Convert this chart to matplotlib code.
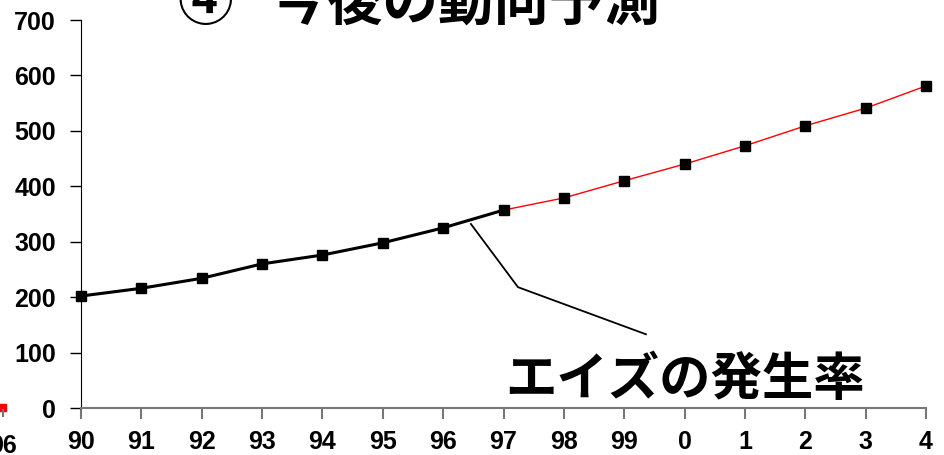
import matplotlib.pyplot as plt
from matplotlib.patches import Rectangle

plt.rcParams['font.family'] = ['Liberation Sans', 'Noto Sans CJK JP', 'DejaVu Sans']

years = ['90', '91', '92', '93', '94', '95', '96', '97', '98', '99', '0', '1', '2', '3', '4']
cases = [202, 216, 234, 260, 276, 298, 325, 357, 379, 410, 440, 473, 509, 541, 581]
n_actual = 8  # 90-97 measured, after that projected

title = '④   今後の動向予測'
label = 'エイズの発生率'

fig = plt.figure(figsize=(9.44, 4.55), dpi=100)
ax = fig.add_axes([81 / 944, 47 / 455, 845 / 944, 388 / 455])

xs = list(range(len(years)))
ax.plot(xs[:n_actual], cases[:n_actual], color='black', lw=2.2, zorder=2)
ax.plot(xs[n_actual - 1:], cases[n_actual - 1:], color='red', lw=1, zorder=2)
ax.plot(xs, cases, ls='none', marker='s', ms=7, color='black', zorder=3,
        clip_on=False)

ax.set_xlim(0, len(years) - 1)
ax.set_ylim(0, 700)
ax.set_yticks(range(0, 701, 100))
ax.set_xticks(xs)
ax.set_xticklabels(years)

for side in ('top', 'right'):
    ax.spines[side].set_visible(False)
ax.spines['left'].set_color('black')
ax.spines['bottom'].set_color('#777777')
ax.spines['bottom'].set_linewidth(1.5)
ax.tick_params(axis='y', direction='out', length=8, width=1, color='black',
               labelsize=18, pad=10)
ax.tick_params(axis='x', direction='out', length=8, width=1.5, color='#777777',
               labelsize=18, pad=8)
for t in ax.get_xticklabels() + ax.get_yticklabels():
    t.set_fontweight('bold')
for sp in ax.spines.values():
    sp.set_clip_on(False)

# leader line from the curve to the label
ax.plot([6.46, 7.24, 9.36], [332, 218, 133], color='black', lw=1.3, zorder=1,
        clip_on=False)
ax.text(10.0, 52, label, ha='center', va='center', fontsize=37,
        fontweight='bold', family=['Noto Sans CJK JP', 'DejaVu Sans'])

# title sits partly above the top edge
fig.text(419 / 944, 1 - 33 / 455, title, ha='center', va='bottom', fontsize=40,
         fontweight='bold', family=['Noto Sans CJK JP', 'DejaVu Sans'])

# edge of the neighbouring chart
fig.text(17 / 944, 1 - 458 / 455, '96', ha='right', va='bottom', fontsize=18,
         fontweight='bold')
fig.patches.append(Rectangle((-2 / 944, 1 - 411 / 455), 8 / 944, 7 / 455,
                             transform=fig.transFigure, color='red'))
fig.lines.append(plt.Line2D([3 / 944, 3 / 944], [1 - 410 / 455, 1 - 416 / 455],
                            transform=fig.transFigure, color='#777777', lw=1.5))

fig.savefig('out.png', dpi=100)
